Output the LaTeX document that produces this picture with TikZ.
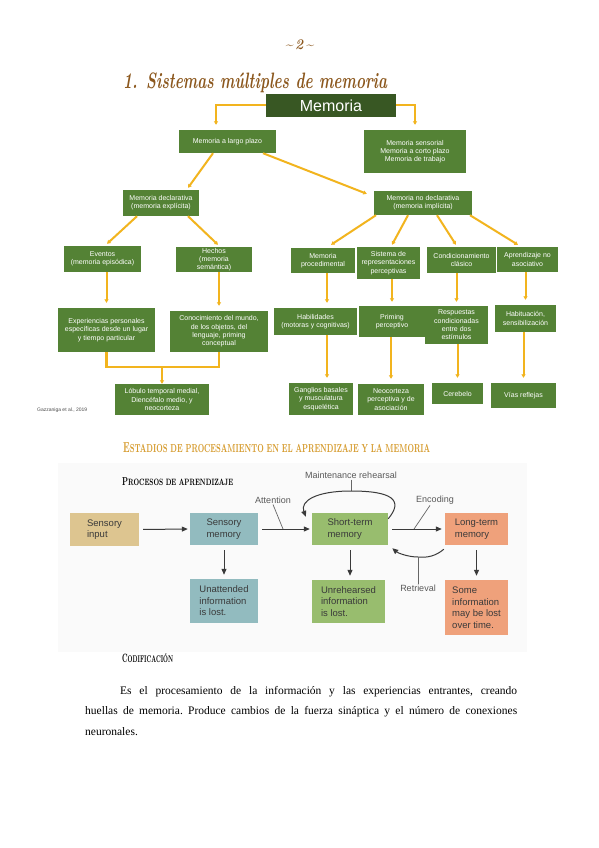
\documentclass[tikz,border=0pt]{standalone}
\usepackage{fontspec}
\usepackage{graphicx}
\newfontfamily\arialf{Liberation Sans}
\newfontfamily\timesf{Liberation Serif}
\usetikzlibrary{arrows.meta,calc}
\definecolor{gbox}{RGB}{84,130,53}
\definecolor{gdark}{RGB}{56,87,35}
\definecolor{ygold}{RGB}{242,180,30}
\definecolor{brownt}{RGB}{140,88,30}
\definecolor{goldt}{RGB}{214,155,45}
\definecolor{cTan}{RGB}{221,197,144}
\definecolor{cTeal}{RGB}{146,187,191}
\definecolor{cGreen}{RGB}{152,189,110}
\definecolor{cSalmon}{RGB}{239,161,123}
\definecolor{txtg}{RGB}{58,58,58}
\tikzset{
  tbox/.style={fill=gbox, text=white, font=\arialf\fontsize{7}{8.3}\selectfont, align=center, inner sep=0pt},
  yarrow/.style={draw=ygold, line width=2pt, -{Triangle[length=3.5pt,width=4pt]}},
  yline/.style={draw=ygold, line width=2.8pt},
  fbox/.style={font=\arialf\fontsize{9.5}{11.5}\selectfont, text=txtg, align=left, inner sep=0pt},
  karrow/.style={draw=txtg, line width=1pt, -{Triangle[length=6pt,width=5pt]}},
  lbl/.style={font=\arialf\fontsize{9}{11}\selectfont, text=black!65, inner sep=1pt},
  leader/.style={draw=black!60, line width=0.7pt},
  head/.style={anchor=north west, inner sep=0pt}
}
\begin{document}
\begin{tikzpicture}[x=1pt,y=-1pt]
\useasboundingbox[fill=white] (0,0) rectangle (599,848);

% page number and title
\node[head, text=brownt] (pg) at (285,40) {\resizebox*{28pt}{10pt}{\bfseries\itshape\textasciitilde\,2\,\textasciitilde}};
\node[head, text=brownt] (title) at (123,73) {\resizebox*{264pt}{20pt}{\bfseries\itshape 1. Sistemas múltiples de memoria}};

% tree nodes
\node[fill=gdark, text=white, font=\arialf\fontsize{16}{18}\selectfont, minimum width=130pt, minimum height=23pt, inner sep=0pt] (memoria) at (331,105.5) {Memoria};
\node[tbox, minimum width=97pt, minimum height=23pt] (mlp) at (227.5,141.5) {Memoria a largo plazo};
\node[tbox, minimum width=102pt, minimum height=43pt] (sens) at (415,151.5) {Memoria sensorial\\Memoria a corto plazo\\Memoria de trabajo};
\node[tbox, minimum width=76pt, minimum height=26pt] (mdecl) at (161,203) {Memoria declarativa\\(memoria explícita)};
\node[tbox, minimum width=98pt, minimum height=24pt] (mnodecl) at (423,203) {Memoria no declarativa\\(memoria implícita)};
\node[tbox, minimum width=77pt, minimum height=26pt] (eventos) at (102.5,259) {Eventos\\(memoria episódica)};
\node[tbox, minimum width=76pt, minimum height=25pt] (hechos) at (214,259.5) {Hechos\\(memoria\\semántica)};
\node[tbox, minimum width=64pt, minimum height=25pt] (mproc) at (323,260.5) {Memoria\\procedimental};
\node[tbox, minimum width=63pt, minimum height=32pt] (sist) at (388.5,263) {Sistema de\\representaciones\\perceptivas};
\node[tbox, minimum width=69pt, minimum height=26pt] (condic) at (461.5,260) {Condicionamiento\\clásico};
\node[tbox, minimum width=61pt, minimum height=25pt] (aprend) at (527.5,259.5) {Aprendizaje no\\asociativo};
\node[tbox, minimum width=97pt, minimum height=44pt] (exper) at (106.5,330) {Experiencias personales\\específicas desde un lugar\\y tiempo particular};
\node[tbox, minimum width=98pt, minimum height=41pt] (conoc) at (219,331.5) {Conocimiento del mundo,\\de los objetos, del\\lenguaje, priming\\conceptual};
\node[tbox, minimum width=83pt, minimum height=27pt] (habil) at (315.5,321.5) {Habilidades\\(motoras y cognitivas)};
\node[tbox, minimum width=66pt, minimum height=31pt] (priming) at (392,321.5) {Priming\\perceptivo};
\node[tbox, minimum width=63pt, minimum height=38pt] (resp) at (456.5,325) {Respuestas\\condicionadas\\entre dos\\estímulos};
\node[tbox, minimum width=61pt, minimum height=27pt] (habit) at (525.5,318.5) {Habituación,\\sensibilización};
\node[tbox, minimum width=94pt, minimum height=31pt] (lobulo) at (162,399.5) {Lóbulo temporal medial,\\Diencéfalo medio, y\\neocorteza};
\node[tbox, minimum width=64pt, minimum height=32pt] (ganglios) at (321,399) {Ganglios basales\\y musculatura\\esquelética};
\node[tbox, minimum width=66pt, minimum height=31pt] (neocort) at (391,399.5) {Neocorteza\\perceptiva y de\\asociación};
\node[tbox, minimum width=51pt, minimum height=21pt] (cereb) at (457.5,393.5) {Cerebelo};
\node[tbox, minimum width=65pt, minimum height=25pt] (vias) at (523.5,395.5) {Vías reflejas};
\node[anchor=west, inner sep=0pt, text=black!70, font=\arialf\fontsize{5}{6}\selectfont] (cite) at (37,410) {Gazzaniga et al., 2019};

% tree connectors
\draw[yarrow] (memoria.west) -| ([xshift=-11.5pt,yshift=5pt]mlp.north);
\draw[yarrow] (memoria.east) -| ([yshift=5pt]sens.north);
\draw[yarrow] ([xshift=-14.5pt]mlp.south) -- ([xshift=27pt,yshift=2pt]mdecl.north);
\draw[yarrow] ([xshift=35.5pt]mlp.south) -- ([xshift=-7pt,yshift=-3pt]mnodecl.north west);
\draw[yarrow] ([xshift=-24pt]mdecl.south) -- ([xshift=4.5pt,yshift=2pt]eventos.north);
\draw[yarrow] ([xshift=27pt]mdecl.south) -- ([xshift=4pt,yshift=2pt]hechos.north);
\draw[yarrow] ([xshift=-47pt]mnodecl.south) -- ([xshift=8pt,yshift=3pt]mproc.north);
\draw[yarrow] ([xshift=-15pt]mnodecl.south) -- ([xshift=3.5pt,yshift=2pt]sist.north);
\draw[yarrow] ([xshift=14pt]mnodecl.south) -- ([xshift=-5.5pt,yshift=2pt]condic.north);
\draw[yarrow] ([xshift=47pt]mnodecl.south) -- ([xshift=-9.5pt,yshift=2pt]aprend.north);

\draw[yarrow] (eventos.south -| exper.north) -- ([yshift=5pt]exper.north);
\draw[yarrow] (hechos.south -| conoc.north) -- ([yshift=5pt]conoc.north);
\draw[yarrow] ([xshift=4pt]mproc.south) -- ([xshift=11.5pt,yshift=5pt]habil.north);
\draw[yarrow] (sist.south -| priming.north) -- ([yshift=4pt]priming.north);
\draw[yarrow] (condic.south -| resp.north) -- ([yshift=4pt]resp.north);
\draw[yarrow] (aprend.south -| habit.north) -- ([yshift=5pt]habit.north);
\draw[yarrow] ([xshift=11.5pt]habil.south) -- ([xshift=6pt,yshift=5pt]ganglios.north);
\draw[yarrow] (priming.south -| neocort.north) -- ([yshift=5pt]neocort.north);
\draw[yarrow] (resp.south -| cereb.north) -- ([yshift=5pt]cereb.north);
\draw[yarrow] (habit.south -| vias.north) -- ([yshift=5pt]vias.north);

\coordinate (join) at (162,367);
\draw[yline] (exper.south) |- (join) -| (conoc.south);
\draw[yarrow, line width=2.4pt] (join) -- (lobulo.north);

% second section heading
\node[head, text=goldt] (h2) at (123,442) {\resizebox*{307pt}{10pt}{\bfseries E{\footnotesize STADIOS DE PROCESAMIENTO EN EL APRENDIZAJE Y LA MEMORIA}}};

% figure background
\fill[black!2] (58,463) rectangle (527,652);
\node[head, text=black] (h3) at (122,477) {\resizebox*{111pt}{8pt}{\bfseries P{\footnotesize ROCESOS DE APRENDIZAJE}}};

% process figure nodes
\node[fbox, fill=cTan, minimum width=69pt, minimum height=33pt] (sin) at (104.5,529.5) {Sensory\\input};
\node[fbox, fill=cTeal, minimum width=68pt, minimum height=32pt] (smem) at (224,529) {Sensory\\memory};
\node[fbox, fill=cGreen, minimum width=76pt, minimum height=32pt] (stm) at (350,529) {Short-term\\memory};
\node[fbox, fill=cSalmon, minimum width=63pt, minimum height=32pt] (ltm) at (476.5,529) {Long-term\\memory};
\node[fbox, fill=cTeal, minimum width=68pt, minimum height=44pt] (unatt) at (224,601) {Unattended\\information\\is lost.};
\node[fbox, fill=cGreen, minimum width=73pt, minimum height=43pt] (unreh) at (348.5,601.5) {Unrehearsed\\information\\is lost.};
\node[fbox, fill=cSalmon, minimum width=63pt, minimum height=55pt] (some) at (476.5,607.5) {Some\\information\\may be lost\\over time.};

\draw[karrow, shorten <=4pt, shorten >=2pt] (sin.east) -- (smem.west);
\draw[karrow, shorten <=4pt, shorten >=2pt] (smem.east) -- (stm.west);
\draw[karrow, shorten <=4pt, shorten >=3pt] (stm.east) -- (ltm.west);
\draw[karrow, shorten <=5pt, shorten >=4pt] (smem.south) -- (unatt.north);
\draw[karrow, shorten <=5pt, shorten >=4pt] (stm.south) -- (stm.south |- unreh.north);
\draw[karrow, shorten <=5pt, shorten >=4pt] (ltm.south) -- (some.north);

\node[lbl] (att) at (273,500) {Attention};
\coordinate (attpt) at (283,529);
\draw[leader] (att.south) -- (attpt);
\node[lbl] (enc) at (435,500) {Encoding};
\coordinate (encpt) at (414,529);
\draw[leader] ([xshift=-5pt]enc.south) -- (encpt);
\node[lbl] (mr) at (351,475) {Maintenance rehearsal};
\coordinate (mrpt) at (351,491);
\draw[leader] (mr.south) -- (mrpt);
\draw[karrow] ([yshift=-6pt]stm.north east) .. controls (404,500) and (392,491) .. (mrpt) .. controls (316,491) and (300,501) .. ([xshift=-6pt,yshift=-4pt]stm.north west);
\coordinate (retpt) at (418,557);
\draw[karrow] ([xshift=-1pt,yshift=-4pt]ltm.south west) .. controls (436,556) and (427,558) .. (retpt) .. controls (408,557) and (398,553) .. ([xshift=4pt,yshift=-3pt]stm.south east);
\node[lbl] (ret) at (418,588) {Retrieval};
\draw[leader] (ret.north -| retpt) -- (retpt);

% codificacion
\node[head, text=black] (h4) at (122,653) {\resizebox*{51pt}{9pt}{\bfseries C{\footnotesize ODIFICACIÓN}}};
\node[anchor=north west, text width=432pt, align=justify, inner sep=0pt, font=\timesf\fontsize{11.5}{20.5}\selectfont] (para) at (85,686) {\frenchspacing\hspace*{35pt}Es el procesamiento de la información y las experiencias entrantes, creando\linebreak huellas de memoria. Produce cambios de la fuerza sináptica y el número de conexiones\linebreak neuronales.};
\end{tikzpicture}
\end{document}
